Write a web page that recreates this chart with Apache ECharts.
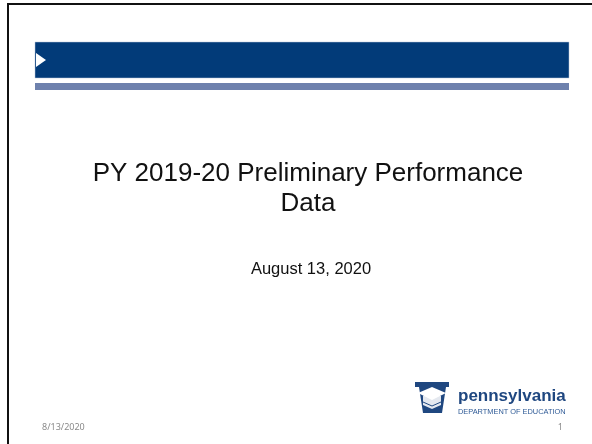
<!DOCTYPE html>
<html>
<head>
<meta charset="utf-8">
<script src="https://cdn.jsdelivr.net/npm/echarts@6/dist/echarts.min.js"></script>
<style>
  html, body { margin: 0; padding: 0; background: #fff; }
  #slide { width: 592px; height: 444px; }
</style>
</head>
<body>
<div id="slide"></div>
<script>
// slide texts
const titleLines = ['PY 2019-20 Preliminary Performance', 'Data']
const subtitle = 'August 13, 2020'
const footerDate = '8/13/2020'
const pageNumber = '1'
const logoName = 'pennsylvania'
const logoDept = 'DEPARTMENT OF EDUCATION'

const navy = '#023b79'
const lightBar = '#6e81ad'
const logoBlue = '#1f4780'

const chart = echarts.init(document.getElementById('slide'), null, { renderer: 'canvas' })

const graphic = [
  // slide frame (top + left edge)
  { type: 'rect', shape: { x: 7, y: 3, width: 585, height: 2 }, style: { fill: '#111' } },
  { type: 'rect', shape: { x: 7, y: 3, width: 2, height: 441 }, style: { fill: '#111' } },
  // header banner
  { type: 'rect', shape: { x: 35, y: 42, width: 534, height: 36 }, style: { fill: navy, stroke: '#b8c6da', lineWidth: 0.5 } },
  { type: 'rect', shape: { x: 35, y: 83, width: 534, height: 7 }, style: { fill: lightBar } },
  { type: 'polygon', shape: { points: [[36, 53], [46, 60], [36, 67]] }, style: { fill: '#fff' } },
  // title
  ...titleLines.map((line, i) => ({
    type: 'text',
    style: {
      text: line, x: 308, y: 174 + i * 30,
      fontFamily: 'Liberation Sans, Arial', fontSize: 26,
      fill: '#111', align: 'center', verticalAlign: 'middle'
    }
  })),
  {
    type: 'text',
    style: {
      text: subtitle, x: 311, y: 269,
      fontFamily: 'Liberation Sans, Arial', fontSize: 16.5,
      fill: '#111', align: 'center', verticalAlign: 'middle'
    }
  },
  // footer
  {
    type: 'text',
    style: {
      text: footerDate, x: 42, y: 427, fontFamily: 'Noto Sans', fontSize: 9,
      fill: '#8a8a8a', align: 'left', verticalAlign: 'middle'
    }
  },
  {
    type: 'text',
    style: {
      text: pageNumber, x: 563, y: 427, fontFamily: 'Noto Sans', fontSize: 9,
      fill: '#8a8a8a', align: 'right', verticalAlign: 'middle'
    }
  },
  // keystone logo
  {
    type: 'group', x: 415, y: 382,
    children: [
      { type: 'polygon', shape: { points: [[0, 0], [34, 0], [34, 5], [31, 5], [27, 31], [8, 31], [4, 5], [0, 5]] }, style: { fill: logoBlue } },
      { type: 'polygon', shape: { points: [[8, 14], [26, 14], [26, 23], [17, 27], [8, 23]] }, style: { fill: '#e4e8ef' } },
      { type: 'polygon', shape: { points: [[3, 11], [17, 5], [31, 11], [17, 18]] }, style: { fill: '#ffffff' } },
      { type: 'line', shape: { x1: 8, y1: 20, x2: 17, y2: 24 }, style: { stroke: logoBlue, lineWidth: 1 } },
      { type: 'line', shape: { x1: 26, y1: 20, x2: 17, y2: 24 }, style: { stroke: logoBlue, lineWidth: 1 } }
    ]
  },
  {
    type: 'text',
    style: {
      text: logoName, x: 458, y: 396, fontFamily: 'Liberation Sans, Arial', fontWeight: 'bold',
      fontSize: 17, fill: logoBlue, align: 'left', verticalAlign: 'middle'
    }
  },
  {
    type: 'text',
    style: {
      text: logoDept, x: 458, y: 411.5, fontFamily: 'Liberation Sans, Arial',
      fontSize: 7.4, fill: '#2e5a96', align: 'left', verticalAlign: 'middle'
    }
  }
]

chart.setOption({ animation: false, graphic })
</script>
</body>
</html>
